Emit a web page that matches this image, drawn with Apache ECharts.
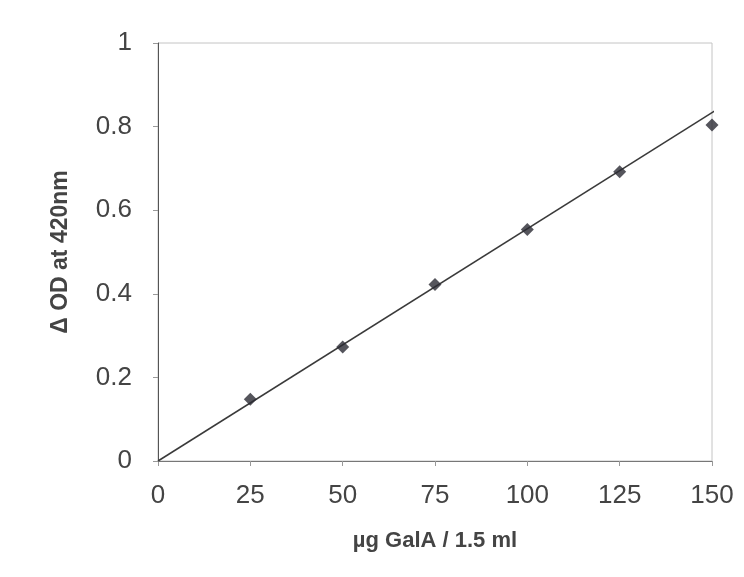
<!DOCTYPE html>
<html>
<head>
<meta charset="utf-8">
<script src="https://cdn.jsdelivr.net/npm/echarts@6/dist/echarts.min.js"></script>
<style>
  html, body { margin: 0; padding: 0; background: #fff; }
  #chart { width: 744px; height: 577px; }
</style>
</head>
<body>
<div id="chart"></div>
<script>
// GalA standard curve: absorbance change vs. amount of galacturonic acid
const galA = [25, 50, 75, 100, 125, 150];
const deltaOD = [0.148, 0.273, 0.422, 0.554, 0.692, 0.804];
// Linear fit through the origin, drawn as a straight line
const fitX = [0, 151];
const fitY = [0, 0.839];
const xTicks = [0, 25, 50, 75, 100, 125, 150];
const yTicks = [0, 0.2, 0.4, 0.6, 0.8, 1];

const chart = echarts.init(document.getElementById('chart'));
const font = 'Liberation Sans, Arial, sans-serif';

chart.setOption({
  backgroundColor: '#fff',
  animation: false,
  grid: {
    left: 158, right: 32, top: 43, bottom: 116,
    show: true, borderColor: '#c4c4c4', borderWidth: 1
  },
  xAxis: {
    type: 'value', min: xTicks[0], max: xTicks[xTicks.length - 1], interval: 25,
    name: 'µg GalA / 1.5 ml', nameLocation: 'middle', nameGap: 69,
    nameTextStyle: { fontFamily: font, fontSize: 22, fontWeight: 'bold', color: '#444' },
    axisLine: { lineStyle: { color: '#777', width: 1 } },
    axisTick: { show: true, length: 5, lineStyle: { color: '#999' } },
    axisLabel: { fontFamily: font, fontSize: 26, color: '#444', margin: 22 },
    splitLine: { show: false }
  },
  yAxis: {
    type: 'value', min: yTicks[0], max: yTicks[yTicks.length - 1], interval: 0.2,
    name: 'Δ OD at 420nm', nameLocation: 'middle', nameGap: 86,
    nameTextStyle: { fontFamily: font, fontSize: 23, fontWeight: 'bold', color: '#444' },
    axisLine: { show: true, lineStyle: { color: '#555', width: 1 } },
    axisTick: { show: true, length: 5, lineStyle: { color: '#999' } },
    axisLabel: {
      fontFamily: font, fontSize: 26, color: '#444', margin: 26,
      formatter: v => String(Math.round(v * 10) / 10)
    },
    splitLine: { show: false }
  },
  series: [
    {
      type: 'line',
      data: fitX.map((x, i) => [x, fitY[i]]),
      showSymbol: false, symbol: 'none', clip: false,
      lineStyle: { color: '#3a3a3a', width: 1.5 },
      z: 2
    },
    {
      type: 'scatter',
      data: galA.map((x, i) => [x, deltaOD[i]]),
      symbol: 'diamond', symbolSize: 13,
      itemStyle: { color: '#2b2b33' },
      z: 3
    }
  ]
});
</script>
</body>
</html>
